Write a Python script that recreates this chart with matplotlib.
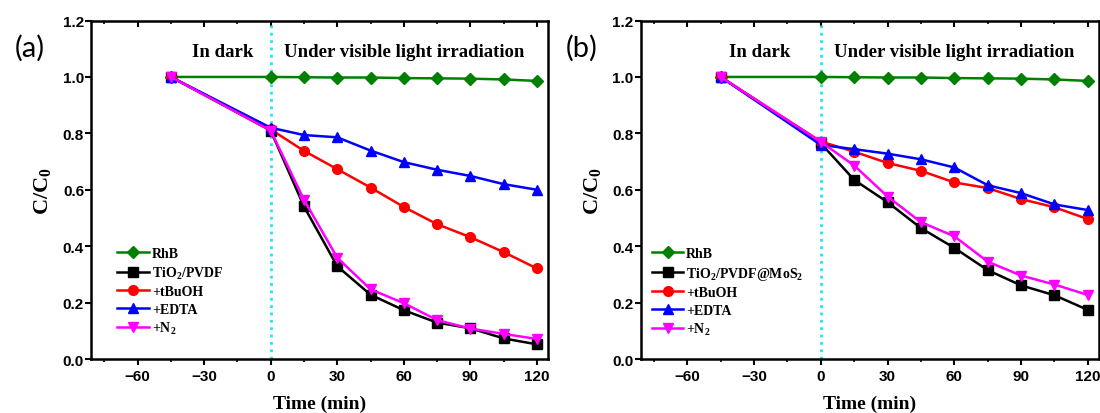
import numpy as np
import matplotlib
matplotlib.use('Agg')
import matplotlib.pyplot as plt
from matplotlib.ticker import MultipleLocator, NullFormatter

plt.rcParams['font.family'] = ['Liberation Sans', 'DejaVu Sans']
plt.rcParams['font.weight'] = 'bold'
plt.rcParams['mathtext.fontset'] = 'custom'
plt.rcParams['mathtext.rm'] = 'Liberation Serif:bold'
plt.rcParams['mathtext.bf'] = 'Liberation Serif:bold'
plt.rcParams['mathtext.it'] = 'Liberation Serif:bold'

# sampling times (min); -45 is the start of the dark adsorption step
time = [-45, 0, 15, 30, 45, 60, 75, 90, 105, 120]

rhb = [1.0, 1.0, 0.999, 0.998, 0.998, 0.996, 0.995, 0.994, 0.991, 0.986]

# panel (a): TiO2/PVDF
a_cat = [1.0, 0.81, 0.541, 0.329, 0.228, 0.173, 0.129, 0.109, 0.073, 0.052]
a_tbuoh = [1.0, 0.814, 0.738, 0.673, 0.608, 0.539, 0.478, 0.432, 0.379, 0.321]
a_edta = [1.0, 0.82, 0.794, 0.786, 0.739, 0.698, 0.671, 0.649, 0.62, 0.60]
a_n2 = [1.0, 0.81, 0.565, 0.359, 0.247, 0.198, 0.138, 0.108, 0.089, 0.071]

# panel (b): TiO2/PVDF@MoS2
b_cat = [1.0, 0.765, 0.635, 0.556, 0.464, 0.394, 0.315, 0.261, 0.226, 0.174]
b_tbuoh = [1.0, 0.771, 0.735, 0.695, 0.667, 0.626, 0.606, 0.567, 0.538, 0.496]
b_edta = [1.0, 0.759, 0.744, 0.728, 0.708, 0.679, 0.616, 0.588, 0.548, 0.528]
b_n2 = [1.0, 0.77, 0.686, 0.576, 0.485, 0.435, 0.345, 0.296, 0.264, 0.227]

a_labels = ['RhB', r'TiO$_\mathrm{2}$/PVDF', '+tBuOH', '+EDTA', r'+N$_\mathrm{2}$']
b_labels = ['RhB', r'TiO$_\mathrm{2}$/PVDF@MoS$_\mathrm{2}$', '+tBuOH', '+EDTA', r'+N$_\mathrm{2}$']

colors = ['#008000', 'black', 'red', 'blue', 'magenta']
markers = ['D', 's', 'o', '^', 'v']
msizes = [6, 6.5, 7, 7.5, 7.5]

serif = 'Liberation Serif'


def draw_panel(ax, series, labels, dark_x, leg_xy):
    ax.axvline(0, color='#22E5EE', ls=':', lw=2, zorder=1)
    for ys, lab, c, m, ms in zip(series, labels, colors, markers, msizes):
        ax.plot(time, ys, color=c, marker=m, markersize=ms, lw=1.8,
                label=lab, zorder=3)
    ax.set_xlim(-81, 125)
    ax.set_ylim(0, 1.2)
    ax.xaxis.set_major_locator(MultipleLocator(30))
    ax.xaxis.set_minor_locator(MultipleLocator(15))
    ax.yaxis.set_major_locator(MultipleLocator(0.2))
    ax.tick_params(axis='x', which='both', direction='out')
    ax.tick_params(axis='x', which='major', length=4, width=1.5, pad=3.5)
    ax.tick_params(axis='x', which='minor', length=2, width=1.2)
    ax.tick_params(axis='y', which='major', length=4, width=1.5, pad=1)
    plt.setp(ax.get_xticklabels() + ax.get_yticklabels(),
             fontweight='bold', fontsize=11)

    # top axis: ticks only, pointing inward
    top = ax.secondary_xaxis('top')
    top.xaxis.set_major_locator(MultipleLocator(30))
    top.xaxis.set_minor_locator(MultipleLocator(15))
    top.xaxis.set_major_formatter(NullFormatter())
    top.tick_params(which='both', direction='in')
    top.tick_params(which='major', length=4, width=1.5)
    top.tick_params(which='minor', length=2, width=1.2)

    for s in ax.spines.values():
        s.set_linewidth(1.8)
    ax.set_xlabel('Time (min)', fontfamily=serif, fontweight='bold',
                  fontsize=14, labelpad=8)
    ax.set_ylabel(r'C/C$_\mathrm{0}$', fontfamily=serif, fontweight='bold',
                  fontsize=16, labelpad=7)
    ax.text(dark_x, 1.09, 'In dark', ha='center', va='center',
            fontfamily=serif, fontweight='bold', fontsize=13.5)
    ax.text(60, 1.09, 'Under visible light irradiation', ha='center',
            va='center', fontfamily=serif, fontweight='bold', fontsize=13.5)
    ax.legend(loc='upper left', bbox_to_anchor=leg_xy, frameon=False,
              borderaxespad=0, borderpad=0, handlelength=2.3,
              handletextpad=0.2, labelspacing=0.32,
              prop={'family': serif, 'weight': 'bold', 'size': 10})


fig = plt.figure(figsize=(11, 4.14), dpi=100)
ax_a = fig.add_axes([0.0827, 0.1304, 0.4155, 0.8176])
ax_b = fig.add_axes([0.5823, 0.1304, 0.4168, 0.8176])

draw_panel(ax_a, [rhb, a_cat, a_tbuoh, a_edta, a_n2], a_labels, -21.5, (0.058, 0.33))
draw_panel(ax_b, [rhb, b_cat, b_tbuoh, b_edta, b_n2], b_labels, -27.6, (0.024, 0.33))

# panel letters
fig.text(30 / 1100, 1 - 48 / 414, '(a)', ha='center', va='center',
         fontfamily='Lato', fontweight='normal', fontsize=21)
fig.text(582 / 1100, 1 - 48 / 414, '(b)', ha='center', va='center',
         fontfamily='Lato', fontweight='normal', fontsize=21)

fig.savefig('out.png', dpi=100)
